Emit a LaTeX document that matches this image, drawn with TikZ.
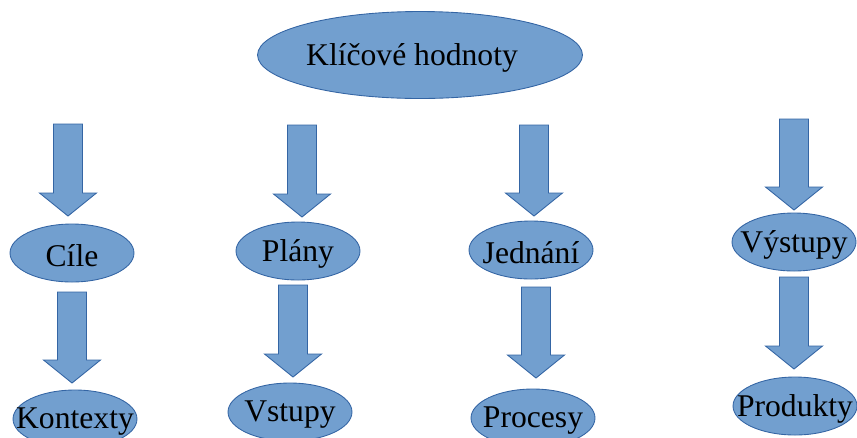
\documentclass[tikz,border=0pt]{standalone}
\usepackage{fontspec}
\setmainfont{Liberation Serif}
\usepackage{xcolor}
\usepackage{tikz}
\usetikzlibrary{shapes.geometric}
\definecolor{fillblue}{HTML}{729FCF}
\definecolor{edgeblue}{HTML}{3465A4}

\begin{document}
\begin{tikzpicture}
      [
        x=0.02cm, y=-0.02cm,
        blob/.style={ellipse,draw=edgeblue,fill=fillblue,line width=0.5pt,
          minimum width=2.48cm,minimum height=1.16cm,inner sep=0pt},
        blobtext/.style={font=\fontsize{18}{20}\selectfont,text=black,yshift=-0.05cm},
        arrowbox/.style={draw=edgeblue,fill=fillblue,line width=0.5pt,line join=miter}
      ]

      \newcommand\blockarrow[3]{%
        \draw[arrowbox] (#1-14.5,#2) -- (#1+14.5,#2) -- (#1+14.5,#3-23)
          -- (#1+28.5,#3-23) -- (#1,#3) -- (#1-28.5,#3-23)
          -- (#1-14.5,#3-23) -- cycle;}

      \clip (0,0) rectangle (857,437);
      \useasboundingbox (0,0) rectangle (857,437);

      \node[blob,minimum width=6.5cm,minimum height=1.74cm,
        label={[blobtext,xshift=-0.16cm]center:Klíčové hodnoty}] (Klic) at (420,55) {};

      \node[blob,label={[blobtext]center:Cíle}] (Cile) at (72,253) {};
      \node[blob,label={[blobtext]center:Plány}] (Plany) at (298,251) {};
      \node[blob,label={[blobtext]center:Jednání}] (Jednani) at (531,250) {};
      \node[blob,label={[blobtext]center:Výstupy}] (Vystupy) at (794,242) {};

      \node[blob,label={[blobtext]center:Kontexty}] (Kontexty) at (75,419) {};
      \node[blob,label={[blobtext]center:Vstupy}] (Vstupy) at (290,412) {};
      \node[blob,label={[blobtext]center:Procesy}] (Procesy) at (533,418) {};
      \node[blob,label={[blobtext]center:Produkty}] (Produkty) at (795,406) {};

      \blockarrow{68}{124}{216}
      \blockarrow{72}{292}{383}
      \blockarrow{302}{125}{217}
      \blockarrow{293}{285}{377}
      \blockarrow{534}{125}{216}
      \blockarrow{536}{287}{378}
      \blockarrow{794}{119}{210}
      \blockarrow{794}{277}{369}
    \end{tikzpicture}
\end{document}
